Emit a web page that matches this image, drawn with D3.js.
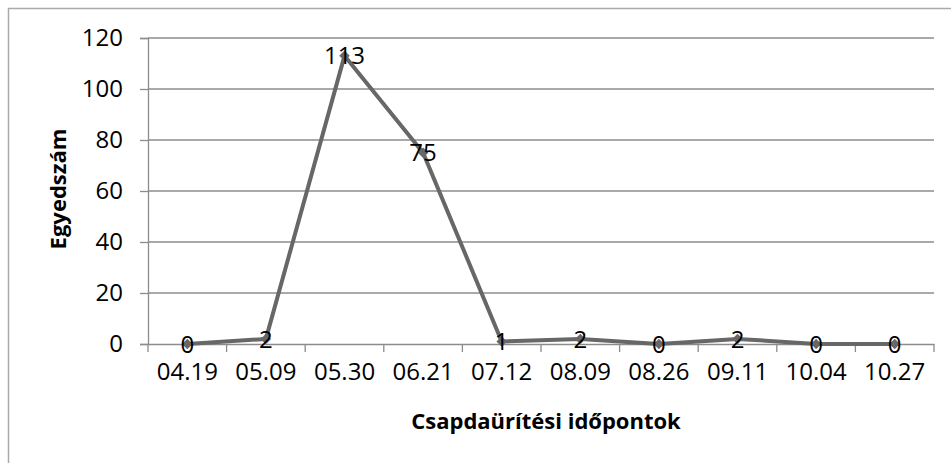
<!DOCTYPE html>
<html lang="hu">
<head>
  <meta charset="UTF-8" />
  <title>Egyedszám</title>
  <script src="https://d3js.org/d3.v7.min.js" charset="utf-8"></script>
  <style>
    body { margin: 0; background: #fff; }
    text { font-family: "Open Sans", sans-serif; fill: #000; }
  </style>
</head>
<body>
<script type="text/javascript">

const WIDTH = 951;
const HEIGHT = 463;
const FONT = "Open Sans";

// data
var dates = ["04.19", "05.09", "05.30", "06.21", "07.12", "08.09", "08.26", "09.11", "10.04", "10.27"];
var counts = [0, 2, 113, 75, 1, 2, 0, 2, 0, 0];
var yTicks = [0, 20, 40, 60, 80, 100, 120];

var data = dates.map((d, i) => ({date: d, value: counts[i]}));

var svg = d3.select("body")
    .append("svg")
        .attr("width", WIDTH)
        .attr("height", HEIGHT);

// outer frame
svg.append("rect")
    .attr("x", 8.5)
    .attr("y", 8.5)
    .attr("width", WIDTH)
    .attr("height", HEIGHT)
    .attr("fill", "none")
    .attr("stroke", "#aaaaaa")
    .attr("stroke-width", 1.5);

const xScale = d3.scaleBand()
    .domain(dates)
    .range([148, 934])
    .padding(0);

const yScale = d3.scaleLinear()
    .domain([0, 120])
    .range([344, 38]);

// grid
svg.append("g")
    .selectAll("line")
    .data(yTicks.filter(t => t > 0))
    .enter().append("line")
        .attr("x1", 148)
        .attr("x2", 934)
        .attr("y1", d => yScale(d))
        .attr("y2", d => yScale(d))
        .attr("stroke", "#8c8c8c")
        .attr("stroke-width", 1.3);

// y axis
svg.append("g")
    .attr("transform", "translate(148, 0)")
    .call(d3.axisLeft(yScale).tickValues(yTicks).tickSize(8).tickPadding(17))
    .call(g => g.select(".domain").attr("stroke", "#8c8c8c").attr("stroke-width", 1.3))
    .call(g => g.selectAll(".tick line").attr("stroke", "#8c8c8c").attr("stroke-width", 1.3))
    .call(g => g.selectAll(".tick text").attr("font-size", 24).attr("font-family", FONT).attr("fill", "#000"));

// x axis (ticks between categories)
svg.append("g")
    .attr("transform", "translate(0, 344)")
    .call(d3.axisBottom(xScale).tickSize(0).tickPadding(19))
    .call(g => g.select(".domain").attr("stroke", "#8c8c8c").attr("stroke-width", 1.3))
    .call(g => g.selectAll(".tick text").attr("font-size", 24).attr("font-family", FONT).attr("fill", "#000"));

svg.append("g")
    .selectAll("line")
    .data(dates.concat([null]))
    .enter().append("line")
        .attr("x1", (d, i) => i < dates.length ? xScale(d) : xScale.range()[1])
        .attr("x2", (d, i) => i < dates.length ? xScale(d) : xScale.range()[1])
        .attr("y1", 344)
        .attr("y2", 352)
        .attr("stroke", "#8c8c8c")
        .attr("stroke-width", 1.3);

// axis titles
svg.append("text")
    .attr("transform", "translate(66, 189) rotate(-90)")
    .attr("text-anchor", "middle")
    .attr("font-size", 22)
    .attr("font-weight", "bold")
    .text("Egyedszám");

svg.append("text")
    .attr("x", 546)
    .attr("y", 429)
    .attr("text-anchor", "middle")
    .attr("font-size", 22)
    .attr("font-weight", "bold")
    .text("Csapdaürítési időpontok");

// line
const cx = d => xScale(d.date) + xScale.bandwidth() / 2;
var line = d3.line()
    .x(cx)
    .y(d => yScale(d.value));

svg.append("path")
    .datum(data)
    .attr("fill", "none")
    .attr("stroke", "#676767")
    .attr("stroke-width", 4)
    .attr("stroke-linejoin", "round")
    .attr("d", line);

// diamond markers
svg.append("g")
    .selectAll("path")
    .data(data)
    .enter().append("path")
        .attr("transform", d => `translate(${cx(d)}, ${yScale(d.value)})`)
        .attr("d", d3.symbol().type(d3.symbolDiamond2).size(70))
        .attr("fill", "#676767");

// data labels
svg.append("g")
    .selectAll("text")
    .data(data)
    .enter().append("text")
        .attr("x", cx)
        .attr("y", d => yScale(d.value))
        .attr("dy", "0.36em")
        .attr("text-anchor", "middle")
        .attr("font-size", 24)
        .attr("font-family", FONT)
        .text(d => d.value);

</script>
</body>
</html>
